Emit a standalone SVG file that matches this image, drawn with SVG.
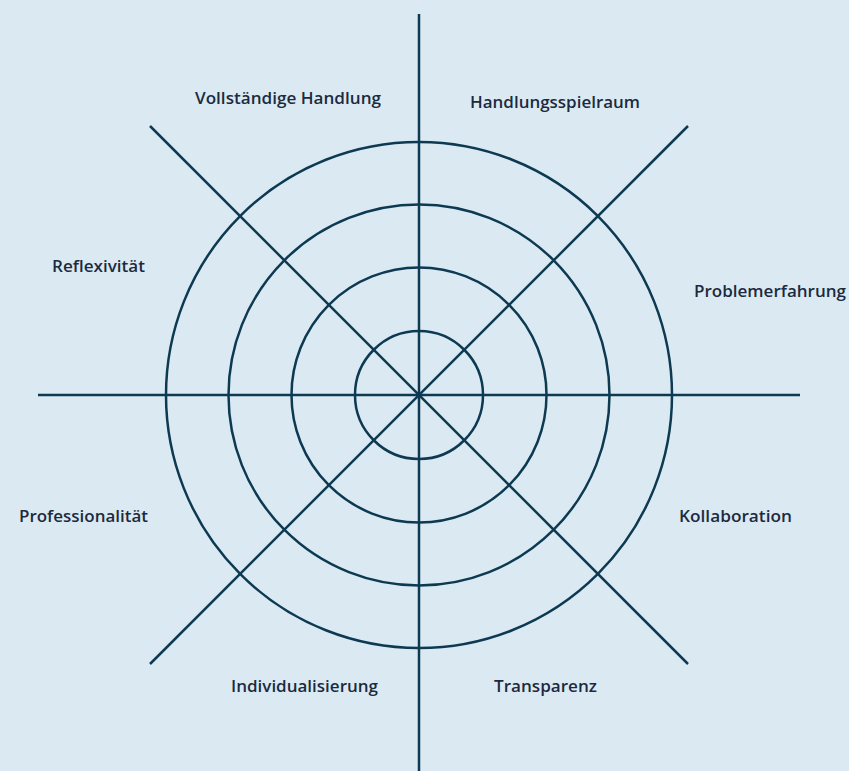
<svg xmlns="http://www.w3.org/2000/svg" width="849" height="771" viewBox="0 0 849 771">
<style>
.ax{stroke:#0d3a52;stroke-width:2.5;fill:none}
.lb{font-family:"Open Sans","Noto Sans",sans-serif;font-size:15.5px;font-weight:600;fill:#1b2a40}
</style>
<rect width="849" height="771" fill="#dbeaf2"/>
<g id="connectors">
<line class="ax" x1="419" y1="14" x2="419" y2="771"/>
<line class="ax" x1="38" y1="395" x2="800" y2="395"/>
<line class="ax" x1="150" y1="126" x2="688" y2="664"/>
<line class="ax" x1="688" y1="126" x2="150" y2="664"/>
</g>
<g id="rings">
<circle class="ax" cx="419" cy="395" r="64"/>
<circle class="ax" cx="419" cy="395" r="127.5"/>
<circle class="ax" cx="419" cy="395" r="190.5"/>
<circle class="ax" cx="419" cy="395" r="253"/>
</g>
<g id="n1"><text class="lb" x="195" y="104" textLength="186" lengthAdjust="spacingAndGlyphs">Vollständige Handlung</text></g>
<g id="n2"><text class="lb" x="470" y="108" textLength="170" lengthAdjust="spacingAndGlyphs">Handlungsspielraum</text></g>
<g id="n3"><text class="lb" x="52" y="272" textLength="93" lengthAdjust="spacingAndGlyphs">Reflexivität</text></g>
<g id="n4"><text class="lb" x="694" y="297" textLength="152" lengthAdjust="spacingAndGlyphs">Problemerfahrung</text></g>
<g id="n5"><text class="lb" x="19" y="522" textLength="129" lengthAdjust="spacingAndGlyphs">Professionalität</text></g>
<g id="n6"><text class="lb" x="679" y="522" textLength="113" lengthAdjust="spacingAndGlyphs">Kollaboration</text></g>
<g id="n7"><text class="lb" x="231" y="692" textLength="147" lengthAdjust="spacingAndGlyphs">Individualisierung</text></g>
<g id="n8"><text class="lb" x="494" y="692" textLength="103" lengthAdjust="spacingAndGlyphs">Transparenz</text></g>
</svg>
